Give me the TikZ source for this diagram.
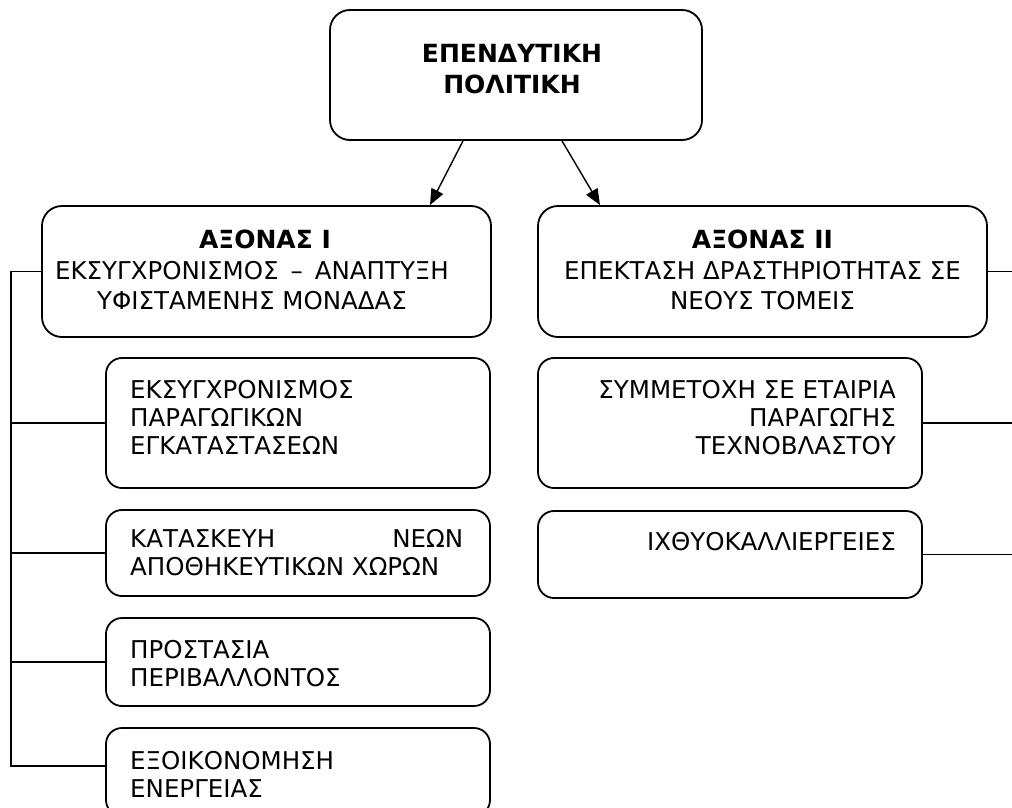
\documentclass[tikz,border=0pt]{standalone}
\usepackage{fontspec}
\setmainfont{DejaVu Sans}
\usetikzlibrary{arrows.meta}
\begin{document}
\begin{tikzpicture}[x=1pt,y=-1pt,
  bx/.style={draw, line width=1.8pt, rounded corners=16pt, inner sep=0pt, fill=white},
  txt/.style={inner sep=0pt, font=\fontsize{24.5}{28}\selectfont},
  bigtxt/.style={inner sep=0pt, font=\fontsize{24.5}{30.5}\selectfont, align=center, anchor=north},
  conn/.style={line width=1.4pt},
  arr/.style={line width=1.4pt, -{Triangle[length=16pt,width=13pt]}}]
\useasboundingbox (0,0) rectangle (1012,808);
\clip (0,0) rectangle (1012,808);
% boxes
\node[bx, rounded corners=20pt, minimum width=372pt, minimum height=130pt] (T) at (516,75) {};
\node[bx, rounded corners=20pt, minimum width=449pt, minimum height=131pt] (I) at (266.5,271.5) {};
\node[bx, rounded corners=20pt, minimum width=449pt, minimum height=131pt] (II) at (762.5,271.5) {};
\node[bx, minimum width=384pt, minimum height=130pt] (a) at (298,423) {};
\node[bx, minimum width=384pt, minimum height=86pt] (b) at (298,553) {};
\node[bx, minimum width=384pt, minimum height=88pt] (c) at (298,662) {};
\node[bx, minimum width=384pt, minimum height=88pt] (d) at (298,772) {};
\node[bx, minimum width=384pt, minimum height=130pt] (e) at (730,423) {};
\node[bx, minimum width=384pt, minimum height=87pt] (f) at (730,554.5) {};
% texts
\node[bigtxt, font=\bfseries\fontsize{25}{31}\selectfont] (tT) at (512,43.8) {ΕΠΕΝΔΥΤΙΚΗ\\ΠΟΛΙΤΙΚΗ};
\node[bigtxt] (tI) at (252,229.8) {\hspace*{26pt}{\bfseries\fontsize{25}{30.5}\selectfont ΑΞΟΝΑΣ Ι}\\ΕΚΣΥΓΧΡΟΝΙΣΜΟΣ\hspace{12pt}–\hspace{12pt}ΑΝΑΠΤΥΞΗ\\ΥΦΙΣΤΑΜΕΝΗΣ ΜΟΝΑΔΑΣ};
\node[bigtxt] (tII) at (762.5,229.8) {{\bfseries\fontsize{25}{30.5}\selectfont ΑΞΟΝΑΣ ΙΙ}\\ΕΠΕΚΤΑΣΗ ΔΡΑΣΤΗΡΙΟΤΗΤΑΣ ΣΕ\\ΝΕΟΥΣ ΤΟΜΕΙΣ};
\node[txt, align=left, anchor=north west] (ta) at (130,380) {ΕΚΣΥΓΧΡΟΝΙΣΜΟΣ\\ΠΑΡΑΓΩΓΙΚΩΝ\\ΕΓΚΑΤΑΣΤΑΣΕΩΝ};
\node[txt, align=left, anchor=north west] (tb) at (130,529) {\hbox to 333pt{ΚΑΤΑΣΚΕΥΗ\hfill ΝΕΩΝ}\\ΑΠΟΘΗΚΕΥΤΙΚΩΝ ΧΩΡΩΝ};
\node[txt, align=left, anchor=north west] (tc) at (130,640) {ΠΡΟΣΤΑΣΙΑ\\ΠΕΡΙΒΑΛΛΟΝΤΟΣ};
\node[txt, align=left, anchor=north west] (td) at (130,751) {ΕΞΟΙΚΟΝΟΜΗΣΗ\\ΕΝΕΡΓΕΙΑΣ};
\node[txt, align=right, anchor=north east] (te) at (896,380) {ΣΥΜΜΕΤΟΧΗ ΣΕ ΕΤΑΙΡΙΑ\\ΠΑΡΑΓΩΓΗΣ\\ΤΕΧΝΟΒΛΑΣΤΟΥ};
\node[txt, align=right, anchor=north east] (tf) at (896,532) {ΙΧΘΥΟΚΑΛΛΙΕΡΓΕΙΕΣ};
% arrows
\draw[arr] ([xshift=-53pt]T.south) -- ([xshift=163.5pt]I.north);
\draw[arr] ([xshift=46pt]T.south) -- ([xshift=-162.5pt]II.north);
% left bus
\draw[conn] (I.west) -- ++(-30,0) |- ([yshift=6pt]d.west);
\draw[conn] (a.west) -- (a.west -| 12,0);
\draw[conn] (b.west) -- (b.west -| 12,0);
\draw[conn] (c.west) -- (c.west -| 12,0);
% right bus
\draw[conn] (II.east) -- ++(30,0) |- (f.east);
\draw[conn] (e.east) -- (e.east -| 1017,0);
\end{tikzpicture}
\end{document}
